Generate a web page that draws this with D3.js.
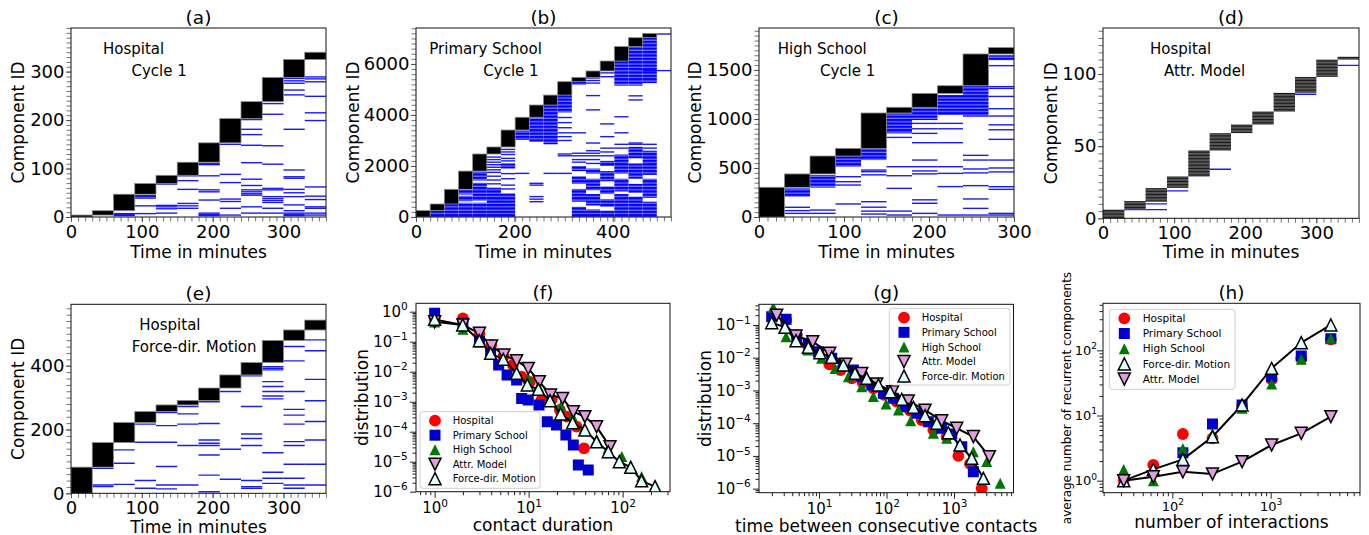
<!DOCTYPE html>
<html>
<head>
<meta charset="utf-8">
<title>Recurrent components in contact networks</title>
<script src="https://cdn.jsdelivr.net/npm/d3@7/dist/d3.min.js"></script>
<style>
  html, body { margin: 0; padding: 0; background: #ffffff; }
  svg { display: block; font-family: "DejaVu Sans", "Liberation Sans", sans-serif; }
</style>
</head>
<body>
<script>
// ===================== Component timelines (a)–(e) =====================
// Cumulative number of components at the end of each time slot:
// the components that first appear in slot k occupy IDs [totals[k-1], totals[k]).
const hospitalTotals = [4, 13, 47, 69, 86, 113, 153, 203, 238, 288, 325, 340];
const primaryTotals  = [250, 510, 1085, 1800, 2470, 2745, 3410, 3910, 4390, 4780, 5305, 5475, 5725, 6115, 6680, 7030, 7200];
const highTotals     = [303, 439, 622, 700, 1061, 1119, 1261, 1339, 1663, 1728];
const attrTotals     = [6, 12, 21, 29, 47, 59, 65, 74, 87, 98, 110, 112];
const forceTotals    = [82, 159, 222, 256, 277, 291, 330, 371, 410, 479, 512, 543];

// Older components that show up again, listed per slot (component IDs).
const hospitalRecurrent = [
  [], [], [3, 5, 7], [44, 42, 39, 23, 7], [68, 24, 21, 17, 8], [85, 75, 57, 28, 23, 18],
  [110, 108, 85, 56, 52, 35, 8, 5, 3], [150, 88, 71, 37, 32, 18, 4],
  [201, 181, 170, 148, 112, 78, 65, 56, 52, 48, 45, 21, 8],
  [234, 212, 147, 109, 59, 56, 42, 38, 34, 30, 18, 8],
  [286, 281, 276, 262, 252, 181, 97, 83, 80, 57, 50, 42, 25, 13, 8, 5, 3],
  [289, 285, 279, 249, 215, 199, 62, 43, 36, 21, 18, 8, 4]
];
const primaryRecurrent = [
  [], [], [], [], [],
  [1300, 1450, 1600, 1750, 1850, 1950, 2050, 2150, 2250, 2350],
  [1100, 1250, 1500, 1700, 2200, 2300, 2450, 2550, 2650],
  [1710, 3450],
  [1320, 1250, 800, 700, 600],
  [1710],
  [3000, 3150, 3300, 3500, 3700, 3900, 2470, 2400, 1710],
  [3300, 2500, 2400, 2250, 2150],
  [5250, 5350, 5450, 4760, 4200, 2900, 2600, 2500, 2400, 2250, 2100],
  [5500, 5650, 3650, 3150, 2700, 2550, 2400],
  [3930, 3300, 2850, 2700],
  [4750, 4590, 2900, 2850],
  [5740, 2850, 2700],
  [7175, 5740]
];
const highRecurrent = [
  [], [99, 65, 37], [71, 37], [411, 360, 326, 133], [479, 462, 430, 156, 100, 60, 30],
  [812, 513, 421, 292, 60, 20],
  [955, 900, 853, 758, 581, 513, 470, 440, 175, 140, 37],
  [955, 900, 758, 513, 445, 310, 20],
  [629, 581, 490, 450, 320, 184, 88, 20],
  [1544, 1330, 1312, 1230, 1105, 1030, 940, 890, 792, 581, 500, 460, 309, 282, 37, 20]
];
const attrRecurrent = [[], [6], [6, 10, 12], [19], [], [34], [], [], [], [86], [], [106]];
const forceRecurrent = [
  [], [78, 26, 21], [136, 94, 28], [217, 160, 40, 16], [253, 212, 160, 84, 26, 14],
  [272, 249, 217, 150, 26], [287, 219, 167, 157, 150, 120, 57, 5], [319, 138, 44],
  [368, 272, 186, 172, 150, 40, 21, 16],
  [397, 392, 387, 350, 335, 319, 305, 296, 127, 66, 47, 31],
  [460, 415, 319, 263, 245, 217, 162, 150, 91, 47, 26, 16],
  [481, 447, 357, 290, 225, 167, 91, 26]
];

// Dense runs of recurring components: [slot, first ID, last ID].
const primaryBands = [
  [1, 0, 250], [2, 0, 510],
  [3, 0, 560], [3, 620, 830], [3, 880, 1060],
  [4, 0, 560], [4, 640, 1340], [4, 1430, 1780],
  [5, 0, 1150],
  [6, 0, 930], [6, 1900, 2100],
  [7, 3020, 3390],
  [8, 2950, 3900],
  [9, 2850, 4390],
  [10, 4100, 4780],
  [11, 5180, 5305], [11, 0, 400], [11, 600, 1100], [11, 1300, 1600], [11, 1800, 2000],
  [12, 0, 300], [12, 450, 900], [12, 1050, 1500], [12, 1700, 1900],
  [13, 0, 250], [13, 400, 700], [13, 900, 1200], [13, 1400, 1800], [13, 2000, 2200],
  [14, 5150, 6115], [14, 0, 900], [14, 1000, 1500], [14, 1700, 2450],
  [15, 5150, 6680], [15, 0, 800], [15, 950, 1300], [15, 1500, 2100], [15, 2300, 2750],
  [16, 5250, 7030], [16, 0, 600], [16, 750, 1500], [16, 1650, 2600]
];
const highBands = [
  [1, 207, 292], [2, 300, 428], [3, 513, 622], [4, 581, 700],
  [5, 853, 1058], [6, 989, 1119], [7, 1040, 1245], [8, 1023, 1336], [9, 1600, 1650]
];

// Slot lengths in minutes and axis ticks
const slotMinutes = { hospital: 30, primary: 28.8, high: 30, attr: 30, force: 30 };
const minuteTicks360 = [0, 100, 200, 300];
const minuteTicks518 = [0, 200, 400];
const minuteTicks300 = [0, 100, 200, 300];
const idTicksHospital = [0, 100, 200, 300];
const idTicksPrimary = [0, 2000, 4000, 6000];
const idTicksHigh = [0, 500, 1000, 1500];
const idTicksAttr = [0, 50, 100];
const idTicksForce = [0, 200, 400];

// ===================== Contact statistics (f)–(h) =====================
// (f) contact duration distribution: [duration, probability]
const durationHospital = [[1, 0.6], [2, 0.6], [3, 0.18], [4, 0.077], [5.4, 0.033], [6.8, 0.0167], [8.4, 0.0068], [10.3, 0.0046], [13.7, 0.00114], [17.6, 0.0012], [21.5, 0.00053], [25.4, 0.00032], [32.4, 0.000147], [38.8, 0.000028]];
const durationPrimary = [[1, 0.88], [2, 0.41], [3, 0.1], [3.94, 0.041], [4.8, 0.0167], [5.9, 0.0077], [7.45, 0.0053], [8.43, 0.00129], [9.9, 0.00114], [12.9, 0.00077], [15.8, 0.000215], [19.8, 0.000167], [24.9, 0.000077], [29.9, 0.000036], [33.8, 0.0000077], [43.1, 0.0000053]];
const durationHigh = [[1, 0.45], [2, 0.26], [3, 0.1], [4, 0.045], [5.4, 0.024], [7.4, 0.011], [9.9, 0.006], [12.7, 0.0033], [16.9, 0.0015], [22, 0.0007], [29, 0.00035], [39, 0.00013], [53, 0.000055], [70, 0.000028], [98, 0.000015], [120, 0.0000068], [159, 0.0000032], [221, 0.0000016]];
const durationAttr = [[1, 0.46], [2, 0.36], [3, 0.19], [4.04, 0.0717], [5.46, 0.036], [7.45, 0.0233], [9.91, 0.0129], [13, 0.00464], [17.1, 0.00167], [23, 0.00129], [29.9, 0.000464], [39.7, 0.000316], [52.8, 0.000147], [73.3, 0.0000316]];
const durationForce = [[1, 0.555], [1.99, 0.36], [2.99, 0.108], [3.94, 0.041], [5.37, 0.0258], [7.45, 0.0088], [9.68, 0.0036], [12.7, 0.00258], [16.9, 0.00108], [21.9, 0.00039], [29.4, 0.0002], [39.7, 0.000114], [52.8, 0.000046], [70.4, 0.0000215], [92.2, 0.00001], [122, 0.0000065], [159, 0.0000023], [221, 0.00000147]];

// (g) distribution of the time between consecutive contacts
const gapHospital = [[3.25, 0.142], [4.67, 0.0496], [6.8, 0.0245], [9.9, 0.0136], [14.2, 0.0063], [20.9, 0.0042], [30.5, 0.00235], [44.4, 0.00173], [63.8, 0.00116], [91.8, 0.00073], [141, 0.000455], [223, 0.000241], [332, 0.000125], [494, 0.000062], [778, 0.000039], [1159, 0.00001], [1726, 0.0000057], [2570, 0.00000102]];
const gapPrimary = [[1.99, 0.18], [3.25, 0.149], [4.67, 0.039], [6.95, 0.0275], [9.77, 0.0153], [15.4, 0.0096], [22.9, 0.006], [32.3, 0.0042], [42.9, 0.00264], [60.4, 0.00147], [89.7, 0.00082], [126, 0.000575], [188, 0.00032], [280, 0.0002], [416, 0.000111], [658, 0.00007], [926, 0.000047], [1302, 0.0000192], [1933, 0.0000033]];
const gapHigh = [[2.1, 0.347], [3.25, 0.044], [6.8, 0.0172], [10.9, 0.0096], [17.3, 0.0047], [27.2, 0.00264], [42.9, 0.0013], [63.8, 0.00065], [98.4, 0.000386], [150, 0.000253], [228, 0.000119], [494, 0.000049], [778, 0.0000345], [1933, 0.0000135], [3053, 0.0000067], [4823, 0.00000146]];
const gapAttr = [[2.36, 0.2], [4.56, 0.046], [8.06, 0.031], [14.4, 0.0136], [24.8, 0.0063], [42.9, 0.0033], [71.5, 0.00158], [123, 0.00092], [210, 0.00048], [372, 0.00025], [656, 0.000119], [1096, 0.00007], [1933, 0.000039], [3336, 0.0000095]];
const gapForce = [[1.99, 0.118], [3.13, 0.085], [4.56, 0.0332], [6.95, 0.0208], [10.3, 0.0143], [15.4, 0.0103], [22.9, 0.006], [34.1, 0.00334], [50.8, 0.00235], [75.7, 0.00147], [113, 0.00092], [168, 0.000536], [250, 0.000305], [372, 0.00017], [554, 0.000099], [824, 0.000051], [1227, 0.0000216], [1827, 0.0000085], [2721, 0.00000207]];

// (h) average number of recurrent components vs. number of interactions
const interactionCounts = [32, 64, 128, 256, 512, 1024, 2048, 4096];
const recurrentHospital = [1.02, 1.74, 5.2, 4.47, 14, 36, 75, 147];
const recurrentPrimary  = [null, null, 2.69, 7.4, 14.5, 39.4, 81.9, 150];
const recurrentHigh     = [1.49, 1.0, 3.13, 5.3, 12.9, 30.4, 72.8, 153];
const recurrentForce    = [1.0, 1.49, 2.12, 4.73, 14.5, 53, 131, 245];
const recurrentAttr     = [1.0, 1.15, 1.37, 1.27, 1.96, 3.53, 5.33, 9.6];

// ===================== drawing =====================
const W = 1369, H = 535;
const BLUE = "#0000ff";
const svg = d3.select("body").append("svg").attr("width", W).attr("height", H);

// striped fill used for dense runs of recurring components
const defs = svg.append("defs");
const stripe = defs.append("pattern").attr("id", "dense-blue").attr("patternUnits", "userSpaceOnUse")
  .attr("width", 8).attr("height", 3.4);
stripe.append("rect").attr("width", 8).attr("height", 3.4).attr("fill", "#7a7aff");
stripe.append("rect").attr("width", 8).attr("height", 2.2).attr("fill", BLUE);

const seriesStyle = {
  "Hospital":          { shape: "circle", r: 5.9, fill: "#ff0000", stroke: "none", line: false },
  "Primary School":    { shape: "square", r: 5.5, fill: "#0000cc", stroke: "none", line: false },
  "High School":       { shape: "up",     r: 5.5, fill: "#007700", stroke: "none", line: false },
  "Attr. Model":       { shape: "down",   r: 6.0, fill: "#dda0dd", stroke: "#000", line: true },
  "Force-dir. Motion": { shape: "up",     r: 6.0, fill: "#e0ffff", stroke: "#000", line: true }
};

function markerPath(shape, r) {
  if (shape === "circle") return d3.symbol(d3.symbolCircle, Math.PI * r * r)();
  if (shape === "square") return `M${-r},${-r}H${r}V${r}H${-r}Z`;
  if (shape === "up") return `M0,${-r}L${r},${r}L${-r},${r}Z`;
  return `M0,${r}L${r},${-r}L${-r},${-r}Z`;
}

function addText(parent, x, y, str, size, anchor, rotate) {
  const t = parent.append("text").attr("x", x).attr("y", y)
    .attr("font-size", size).attr("fill", "#000")
    .attr("text-anchor", anchor || "start").text(str);
  if (rotate) t.attr("transform", `rotate(-90,${x},${y})`);
  return t;
}

function styleAxis(sel, tickColor, fontSize) {
  sel.select(".domain").remove();
  sel.selectAll(".tick line").attr("stroke", tickColor).attr("stroke-width", 1);
  sel.selectAll(".tick text").attr("fill", "#000").attr("font-size", fontSize)
    .attr("font-family", "DejaVu Sans, sans-serif");
}

// ---------- component timeline panels ----------
const timelinePanels = [
  { id: "a", title: "(a)", box: [71, 326, 28, 217], slot: slotMinutes.hospital, xMax: 360, xTicks: minuteTicks360, xMinor: 10,
    yMax: 390, yTicks: idTicksHospital, yMinor: 10, totals: hospitalTotals, recurrent: hospitalRecurrent, bands: [],
    caption: [["Hospital", 103, 54], ["Cycle 1", 131.5, 76]], yLabelX: 24, xLabelY: 257.5, titleY: 24 },
  { id: "b", title: "(b)", box: [416, 671, 28, 217], slot: slotMinutes.primary, xMax: 518.4, xTicks: minuteTicks518, xMinor: 14.4,
    yMax: 7410, yTicks: idTicksPrimary, yMinor: 200, totals: primaryTotals, recurrent: primaryRecurrent, bands: primaryBands,
    caption: [["Primary School", 429.3, 54], ["Cycle 1", 483.3, 76]], yLabelX: 358.5, xLabelY: 257.5, titleY: 24 },
  { id: "c", title: "(c)", box: [759, 1014, 28, 217], slot: slotMinutes.high, xMax: 300, xTicks: minuteTicks300, xMinor: 10,
    yMax: 1928, yTicks: idTicksHigh, yMinor: 50, totals: highTotals, recurrent: highRecurrent, bands: highBands,
    caption: [["High School", 777.7, 54], ["Cycle 1", 820, 76]], yLabelX: 700.7, xLabelY: 257.5, titleY: 24 },
  { id: "d", title: "(d)", box: [1103, 1359, 28, 218.3], slot: slotMinutes.attr, xMax: 360, xTicks: minuteTicks360, xMinor: 10,
    yMax: 131.9, yTicks: idTicksAttr, yMinor: 5, totals: attrTotals, recurrent: attrRecurrent, bands: [], striped: true,
    caption: [["Hospital", 1150, 54], ["Attr. Model", 1164, 76]], yLabelX: 1057.4, xLabelY: 257.5, titleY: 24 },
  { id: "e", title: "(e)", box: [71, 326, 304.3, 493.3], slot: slotMinutes.force, xMax: 360, xTicks: minuteTicks360, xMinor: 10,
    yMax: 592.5, yTicks: idTicksForce, yMinor: 20, totals: forceTotals, recurrent: forceRecurrent, bands: [],
    caption: [["Hospital", 139.3, 329.5], ["Force-dir. Motion", 131.7, 351.5]], yLabelX: 24, xLabelY: 532.5, titleY: 299.5 }
];

function drawTimeline(p) {
  const [x0, x1, y0, y1] = p.box;
  const x = d3.scaleLinear().domain([0, p.xMax]).range([x0, x1]);
  const y = d3.scaleLinear().domain([0, p.yMax]).range([y1, y0]);
  const g = svg.append("g").attr("class", "timeline-" + p.id);
  g.append("clipPath").attr("id", "clip-" + p.id).append("rect")
    .attr("x", x0).attr("y", y0).attr("width", x1 - x0).attr("height", y1 - y0);
  const plot = g.append("g").attr("clip-path", `url(#clip-${p.id})`);
  const slotX = k => x(k * p.slot);

  // dense runs of recurring components
  plot.selectAll("rect.band").data(p.bands).join("rect").attr("class", "band")
    .attr("x", d => slotX(d[0])).attr("width", d => slotX(d[0] + 1) - slotX(d[0]))
    .attr("y", d => y(d[2])).attr("height", d => y(d[1]) - y(d[2]))
    .attr("fill", "url(#dense-blue)");

  // individual recurring components
  const rec = p.recurrent.flatMap((ids, k) => ids.map(id => ({ k, id })));
  plot.selectAll("line.rec").data(rec).join("line").attr("class", "rec")
    .attr("x1", d => slotX(d.k)).attr("x2", d => slotX(d.k + 1))
    .attr("y1", d => y(d.id)).attr("y2", d => y(d.id))
    .attr("stroke", BLUE).attr("stroke-width", 1.4).attr("stroke-opacity", 0.9);

  // components that are new in each slot
  const blocks = p.totals.map((hi, k) => ({ k, lo: k ? p.totals[k - 1] : 0, hi }));
  if (p.striped) {
    plot.selectAll("rect.block").data(blocks).join("rect").attr("class", "block")
      .attr("x", d => slotX(d.k)).attr("width", d => slotX(d.k + 1) - slotX(d.k))
      .attr("y", d => y(d.hi)).attr("height", d => y(d.lo) - y(d.hi))
      .attr("fill", "#9a9a9a");
    const ids = blocks.flatMap(b => d3.range(b.lo, b.hi).map(id => ({ k: b.k, id })));
    plot.selectAll("line.comp").data(ids).join("line").attr("class", "comp")
      .attr("x1", d => slotX(d.k)).attr("x2", d => slotX(d.k + 1))
      .attr("y1", d => y(d.id + 0.5)).attr("y2", d => y(d.id + 0.5))
      .attr("stroke", "#000").attr("stroke-width", 0.85);
  } else {
    plot.selectAll("rect.block").data(blocks).join("rect").attr("class", "block")
      .attr("x", d => slotX(d.k)).attr("width", d => slotX(d.k + 1) - slotX(d.k))
      .attr("y", d => y(d.hi)).attr("height", d => y(d.lo) - y(d.hi))
      .attr("fill", "#000").attr("stroke", "#8a8a8a").attr("stroke-width", 0.8);
  }

  // axes: minor ticks, then labelled ticks
  const xMinor = g.append("g").attr("transform", `translate(0,${y1})`)
    .call(d3.axisBottom(x).tickValues(d3.range(0, p.xMax + 1e-6, p.xMinor)).tickSize(4.5).tickFormat(""));
  styleAxis(xMinor, "#777", 18);
  const yMinor = g.append("g").attr("transform", `translate(${x0},0)`)
    .call(d3.axisLeft(y).tickValues(d3.range(0, p.yMax + 1e-6, p.yMinor)).tickSize(4.5).tickFormat(""));
  styleAxis(yMinor, "#777", 18);
  const xAxis = g.append("g").attr("transform", `translate(0,${y1})`)
    .call(d3.axisBottom(x).tickValues(p.xTicks).tickSize(5).tickFormat(d3.format("d")));
  styleAxis(xAxis, "#555", 18);
  xAxis.selectAll(".tick text").attr("y", 20.5).attr("dy", 0);
  const yAxis = g.append("g").attr("transform", `translate(${x0},0)`)
    .call(d3.axisLeft(y).tickValues(p.yTicks).tickSize(5).tickPadding(1.5).tickFormat(d3.format("d")));
  styleAxis(yAxis, "#555", 18);

  g.append("rect").attr("x", x0).attr("y", y0).attr("width", x1 - x0).attr("height", y1 - y0)
    .attr("fill", "none").attr("stroke", "#111").attr("stroke-width", 1);

  p.caption.forEach(([str, cx, cy]) => addText(g, cx, cy, str, 15));
  addText(g, (x0 + x1) / 2, p.titleY, p.title, 18.5, "middle");
  addText(g, (x0 + x1) / 2, p.xLabelY, "Time in minutes", 17, "middle");
  addText(g, p.yLabelX, (y0 + y1) / 2, "Component ID", 17, "middle", true);
}

timelinePanels.forEach(drawTimeline);

// ---------- log–log panels ----------
const statPanels = [
  { id: "f", title: "(f)", box: [416, 670, 303.3, 491.7], xDomain: [0.634, 319], yDomain: [1e-6, 1.905],
    xLabel: "contact duration", yLabel: "distribution", tickFont: 15, yLabelSize: 17, xLabelY: 531, yLabelX: 368, titleY: 299,
    xTickY: 21.6, yTickPad: 2.3,
    legend: { box: [420, 411.7, 120, 76.6], markerX: 435, textX: 452.7, firstY: 420.7, step: 14.5, font: 10 },
    series: [["Hospital", durationHospital], ["Primary School", durationPrimary], ["High School", durationHigh],
             ["Attr. Model", durationAttr], ["Force-dir. Motion", durationForce]] },
  { id: "g", title: "(g)", box: [759, 1013.5, 304.3, 492.7], xDomain: [1.29, 7600], yDomain: [7.52e-7, 0.429],
    xLabel: "time between consecutive contacts", yLabel: "distribution", tickFont: 15, yLabelSize: 17, xLabelY: 532, yLabelX: 711, titleY: 299,
    xTickY: 21.3, yTickPad: 2.3,
    legend: { box: [889.3, 308.3, 120.7, 76.7], markerX: 904, textX: 921.7, firstY: 317.7, step: 14.6, font: 10 },
    series: [["Hospital", gapHospital], ["Primary School", gapPrimary], ["High School", gapHigh],
             ["Attr. Model", gapAttr], ["Force-dir. Motion", gapForce]] },
  { id: "h", title: "(h)", box: [1103, 1360, 303.3, 492.7], xDomain: [19.7, 8110], yDomain: [0.654, 527],
    xLabel: "number of interactions", yLabel: "average number of recurrent components", tickFont: 13, yLabelSize: 12,
    xLabelY: 528, yLabelX: 1070.8, titleY: 299, xTickY: 18.3, yTickPad: 0,
    legend: { box: [1109.3, 309.3, 125.7, 80], markerX: 1124.3, textX: 1142.7, firstY: 318.3, step: 15.2, font: 10.5 },
    series: [["Hospital", recurrentHospital], ["Primary School", recurrentPrimary], ["High School", recurrentHigh],
             ["Force-dir. Motion", recurrentForce], ["Attr. Model", recurrentAttr]]
      .map(([name, vals]) => [name, interactionCounts.map((n, i) => [n, vals[i]])]) }
];

function decades(domain) {
  const out = [];
  for (let e = Math.ceil(Math.log10(domain[0]) - 1e-9); e <= Math.floor(Math.log10(domain[1]) + 1e-9); e++) out.push(Math.pow(10, e));
  return out;
}
function minorDecades(domain) {
  const out = [];
  for (let e = Math.floor(Math.log10(domain[0])); e <= Math.ceil(Math.log10(domain[1])); e++)
    for (let m = 2; m <= 9; m++) {
      const v = m * Math.pow(10, e);
      if (v >= domain[0] && v <= domain[1]) out.push(v);
    }
  return out;
}
function powerLabels(axisSel, fs) {
  axisSel.selectAll(".tick text").each(function (d) {
    const e = Math.round(Math.log10(d));
    const t = d3.select(this).text(null);
    t.append("tspan").text("10");
    t.append("tspan").attr("dy", -0.44 * fs).attr("font-size", 0.7 * fs)
      .text(e < 0 ? "\u2212" + (-e) : String(e));
  });
}

function drawStats(p) {
  const [x0, x1, y0, y1] = p.box;
  const x = d3.scaleLog().domain(p.xDomain).range([x0, x1]);
  const y = d3.scaleLog().domain(p.yDomain).range([y1, y0]);
  const g = svg.append("g").attr("class", "stats-" + p.id);
  g.append("clipPath").attr("id", "clip-" + p.id).append("rect")
    .attr("x", x0).attr("y", y0).attr("width", x1 - x0).attr("height", y1 - y0);
  const plot = g.append("g").attr("clip-path", `url(#clip-${p.id})`);

  p.series.forEach(([name, values]) => {
    const st = seriesStyle[name];
    const pts = values.filter(d => d[1] != null);
    if (st.line) {
      plot.append("path").datum(pts)
        .attr("d", d3.line().x(d => x(d[0])).y(d => y(d[1])))
        .attr("fill", "none").attr("stroke", "#000").attr("stroke-width", 2).attr("stroke-linejoin", "round");
    }
    plot.append("g").selectAll("path").data(pts).join("path")
      .attr("transform", d => `translate(${x(d[0])},${y(d[1])})`)
      .attr("d", markerPath(st.shape, st.r))
      .attr("fill", st.fill).attr("stroke", st.stroke).attr("stroke-width", st.stroke === "none" ? 0 : 1.5)
      .attr("stroke-linejoin", "miter");
  });

  // ticks
  const xm = g.append("g").attr("transform", `translate(0,${y1})`)
    .call(d3.axisBottom(x).tickValues(minorDecades(p.xDomain)).tickSize(3.5).tickFormat(""));
  styleAxis(xm, "#222", p.tickFont);
  const ym = g.append("g").attr("transform", `translate(${x0},0)`)
    .call(d3.axisLeft(y).tickValues(minorDecades(p.yDomain)).tickSize(3.5).tickFormat(""));
  styleAxis(ym, "#222", p.tickFont);
  const xa = g.append("g").attr("transform", `translate(0,${y1})`)
    .call(d3.axisBottom(x).tickValues(decades(p.xDomain)).tickSize(6).tickFormat(d => d));
  styleAxis(xa, "#222", p.tickFont);
  xa.selectAll(".tick text").attr("y", p.xTickY).attr("dy", 0);
  powerLabels(xa, p.tickFont);
  const ya = g.append("g").attr("transform", `translate(${x0},0)`)
    .call(d3.axisLeft(y).tickValues(decades(p.yDomain)).tickSize(6).tickPadding(p.yTickPad).tickFormat(d => d));
  styleAxis(ya, "#222", p.tickFont);
  powerLabels(ya, p.tickFont);

  g.append("rect").attr("x", x0).attr("y", y0).attr("width", x1 - x0).attr("height", y1 - y0)
    .attr("fill", "none").attr("stroke", "#111").attr("stroke-width", 1);

  // legend
  const L = p.legend;
  const lg = g.append("g");
  lg.append("rect").attr("x", L.box[0]).attr("y", L.box[1]).attr("width", L.box[2]).attr("height", L.box[3])
    .attr("rx", 3).attr("fill", "#fff").attr("fill-opacity", 0.85).attr("stroke", "#cfcfcf");
  p.series.forEach(([name], i) => {
    const st = seriesStyle[name];
    const cy = L.firstY + i * L.step;
    lg.append("path").attr("transform", `translate(${L.markerX},${cy})`)
      .attr("d", markerPath(st.shape, st.r))
      .attr("fill", st.fill).attr("stroke", st.stroke).attr("stroke-width", st.stroke === "none" ? 0 : 1.5);
    addText(lg, L.textX, cy + L.font * 0.36, name, L.font);
  });

  addText(g, (x0 + x1) / 2, p.titleY, p.title, 18.5, "middle");
  addText(g, (x0 + x1) / 2, p.xLabelY, p.xLabel, 17, "middle");
  addText(g, p.yLabelX, (y0 + y1) / 2, p.yLabel, p.yLabelSize, "middle", true);
}

statPanels.forEach(drawStats);
</script>
</body>
</html>
